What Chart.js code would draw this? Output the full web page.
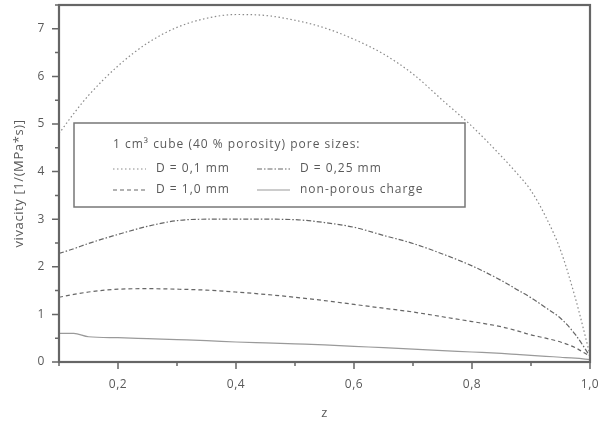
<!DOCTYPE html>
<html>
<head>
<meta charset="utf-8">
<script src="https://cdn.jsdelivr.net/npm/chart.js@4"></script>
<style>
  body { margin: 0; background: #fff; }
  #wrap { width: 607px; height: 424px; }
</style>
</head>
<body>
<div id="wrap"><canvas id="chart" width="607" height="424"></canvas></div>
<script>
// z positions shared by all four curves
const zValues = [0.1, 0.125, 0.15, 0.2, 0.25, 0.3, 0.35, 0.4, 0.45, 0.5, 0.55, 0.6, 0.65, 0.7, 0.75, 0.8, 0.85, 0.875, 0.9, 0.925, 0.95, 0.975, 1.0];

// vivacity values
const d01 = [4.8, 5.22, 5.6, 6.22, 6.7, 7.03, 7.22, 7.3, 7.28, 7.18, 7.02, 6.78, 6.47, 6.05, 5.5, 4.95, 4.32, 3.98, 3.6, 3.05, 2.35, 1.35, 0.15];
const d025 = [2.28, 2.38, 2.49, 2.68, 2.85, 2.97, 3.0, 3.0, 3.0, 2.99, 2.93, 2.83, 2.66, 2.49, 2.27, 2.02, 1.71, 1.53, 1.35, 1.14, 0.92, 0.58, 0.12];
const d10 = [1.36, 1.42, 1.47, 1.53, 1.54, 1.53, 1.51, 1.47, 1.42, 1.36, 1.29, 1.21, 1.13, 1.05, 0.95, 0.85, 0.74, 0.66, 0.57, 0.5, 0.42, 0.3, 0.12];
const nonPorous = [0.6, 0.6, 0.53, 0.51, 0.49, 0.47, 0.45, 0.42, 0.4, 0.38, 0.36, 0.33, 0.3, 0.27, 0.24, 0.21, 0.18, 0.16, 0.14, 0.12, 0.1, 0.08, 0.05];

const seriesLabels = ["D = 0,1 mm", "D = 0,25 mm", "D = 1,0 mm", "non-porous charge"];
const legendTitle = "1 cm³ cube (40 % porosity) pore sizes:";
const xTitle = "z";
const yTitle = "vivacity [1/(MPa*s)]";

const FONT = "'Open Sans', 'DejaVu Sans', sans-serif";
const TEXT = "#5a5a5a";
const AXIS = "#666";

const toPoints = (ys) => zValues.map((z, i) => ({ x: z, y: ys[i] }));

// the original lettering is a bit wider than Open Sans
const spacing = {
  id: "spacing",
  beforeDraw(chart) {
    chart.ctx.letterSpacing = "0.6px";
  },
};

// frame round the plot + major/minor tick marks
const framePlugin = {
  id: "frame",
  afterDatasetsDraw(chart) {
    const { ctx, chartArea: a, scales } = chart;
    ctx.save();
    ctx.strokeStyle = AXIS;
    ctx.lineWidth = 2.2;
    ctx.strokeRect(a.left, a.top, a.right - a.left, a.bottom - a.top);
    ctx.lineWidth = 1.5;
    ctx.beginPath();
    scales.x.ticks.forEach((t) => {
      const px = scales.x.getPixelForValue(t.value);
      const len = Math.round(t.value * 10) % 2 === 0 ? 7 : 4;
      ctx.moveTo(px, a.bottom);
      ctx.lineTo(px, a.bottom + len);
    });
    scales.y.ticks.forEach((t) => {
      const py = scales.y.getPixelForValue(t.value);
      const len = Math.abs(t.value - Math.round(t.value)) < 1e-6 ? 7 : 4;
      ctx.moveTo(a.left, py);
      ctx.lineTo(a.left - len, py);
    });
    ctx.stroke();
    ctx.restore();
  },
};

// boxed legend with a title and two columns
const legendBox = {
  id: "legendBox",
  afterDraw(chart) {
    const { ctx, chartArea: a } = chart;
    const left = a.left + 15, top = a.top + 118, w = 391, h = 84;
    ctx.save();
    ctx.fillStyle = "#fff";
    ctx.fillRect(left, top, w, h);
    ctx.strokeStyle = "#777";
    ctx.lineWidth = 1.5;
    ctx.strokeRect(left, top, w, h);

    ctx.fillStyle = TEXT;
    ctx.font = "12px " + FONT;
    ctx.letterSpacing = "1px";
    ctx.textBaseline = "middle";
    ctx.fillText(legendTitle, left + 39, top + 22);

    const cols = [left + 39, left + 183];
    const rows = [top + 46, top + 67];
    chart.data.datasets.forEach((ds, i) => {
      const x = cols[i % 2], y = rows[Math.floor(i / 2)];
      ctx.strokeStyle = ds.borderColor;
      ctx.lineWidth = ds.borderWidth;
      ctx.setLineDash(ds.borderDash || []);
      ctx.beginPath();
      ctx.moveTo(x, y);
      ctx.lineTo(x + 33, y);
      ctx.stroke();
      ctx.setLineDash([]);
      ctx.fillText(ds.label, x + 43, y);
    });
    ctx.restore();
  },
};

const ctx = document.getElementById("chart").getContext("2d");
new Chart(ctx, {
  type: "line",
  data: {
    datasets: [
      { label: seriesLabels[0], data: toPoints(d01), borderColor: "#8a8a8a", borderWidth: 1.2, borderDash: [1.5, 2.5] },
      { label: seriesLabels[1], data: toPoints(d025), borderColor: "#666", borderWidth: 1.2, borderDash: [5, 2, 1.5, 2] },
      { label: seriesLabels[2], data: toPoints(d10), borderColor: "#666", borderWidth: 1.2, borderDash: [4, 3] },
      { label: seriesLabels[3], data: toPoints(nonPorous), borderColor: "#9a9a9a", borderWidth: 1.2 },
    ],
  },
  options: {
    responsive: false,
    animation: false,
    devicePixelRatio: 1,
    elements: { point: { radius: 0 }, line: { cubicInterpolationMode: "monotone" } },
    layout: { padding: { top: 5, right: 17, left: 0, bottom: 0 } },
    plugins: { legend: { display: false }, tooltip: { enabled: false } },
    scales: {
      x: {
        type: "linear",
        min: 0.1,
        max: 1.0,
        grid: { display: false, drawTicks: true, tickLength: 7 },
        border: { display: false },
        ticks: {
          stepSize: 0.1,
          padding: 8,
          color: TEXT,
          font: { family: FONT, size: 12 },
          maxRotation: 0,
          autoSkip: false,
          callback: (v) => {
            const k = Math.round(v * 10);
            return k % 2 === 0 ? (k / 10).toFixed(1).replace(".", ",") : "";
          },
        },
        title: { display: true, text: xTitle, color: TEXT, font: { family: FONT, size: 13 }, padding: { top: 0, bottom: 3 } },
        afterFit(scale) {
          scale.height = 62;
          scale.paddingLeft = 0;
          scale.paddingRight = 0;
        },
      },
      y: {
        min: 0,
        max: 7.5,
        grid: { display: false, drawTicks: true, tickLength: 7 },
        border: { display: false },
        ticks: {
          stepSize: 0.5,
          padding: 7,
          color: TEXT,
          font: { family: FONT, size: 12 },
          autoSkip: false,
          callback: (v) => (Math.abs(v - Math.round(v)) < 1e-6 ? String(Math.round(v)) : ""),
        },
        title: { display: true, text: yTitle, color: TEXT, font: { family: FONT, size: 13 }, padding: { top: 11, bottom: 0 } },
        afterFit(scale) {
          scale.width = 59;
          scale.paddingTop = 0;
          scale.paddingBottom = 0;
        },
      },
    },
  },
  plugins: [spacing, framePlugin, legendBox],
});
</script>
</body>
</html>
